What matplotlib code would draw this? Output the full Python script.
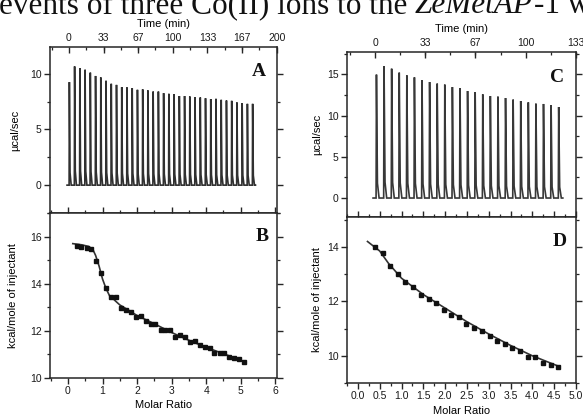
import matplotlib
matplotlib.use("Agg")
import matplotlib.pyplot as plt
from matplotlib.ticker import MultipleLocator, FixedLocator

plt.rcParams['font.family'] = ['Liberation Sans', 'DejaVu Sans']
plt.rcParams['axes.linewidth'] = 1.1

INK = '#262626'

# ---- raw ITC heat pulses (µcal/sec) ----
inj_interval = 5.04          # minutes between injections
a_first = 0.2
a_peaks = [9.25, 10.66, 10.5, 10.36, 10.1, 9.8, 9.67, 9.37, 9.1, 9.0,
           8.8, 8.77, 8.7, 8.56, 8.6, 8.5, 8.4, 8.4, 8.26, 8.2,
           8.17, 8.0, 8.0, 7.96, 7.9, 7.87, 7.8, 7.72, 7.75, 7.66,
           7.6, 7.57, 7.42, 7.36, 7.3, 7.3]
c_first = 0.7
c_peaks = [14.96, 15.96, 15.68, 15.2, 14.87, 14.63, 14.27, 14.06, 13.87, 13.75,
           13.45, 13.3, 12.97, 12.85, 12.57, 12.36, 12.29, 12.12, 11.93, 11.76,
           11.6, 11.44, 11.4, 11.24, 11.03]

time_ticks = [0, 33.33, 66.67, 100, 133.33, 166.67, 200]
time_labels = ['0', '33', '67', '100', '133', '167', '200']

# ---- integrated heats (kcal/mole of injectant) ----
b_ratio = [0.25, 0.39, 0.54, 0.68, 0.82, 0.96, 1.11, 1.25, 1.39, 1.53,
           1.68, 1.82, 1.96, 2.10, 2.25, 2.39, 2.53, 2.68, 2.82, 2.96,
           3.10, 3.25, 3.39, 3.53, 3.67, 3.82, 3.96, 4.10, 4.24, 4.39,
           4.53, 4.67, 4.81, 4.96, 5.10]
b_heat = [15.62, 15.57, 15.52, 15.48, 14.95, 14.45, 13.8, 13.45, 13.42, 12.98,
          12.88, 12.82, 12.58, 12.64, 12.43, 12.31, 12.31, 12.05, 12.03, 12.02,
          11.76, 11.83, 11.72, 11.52, 11.57, 11.4, 11.32, 11.29, 11.08, 11.08,
          11.04, 10.87, 10.84, 10.80, 10.68]
b_fit_ratio = [0.14, 0.4, 0.6, 0.72, 0.8, 0.9, 1.0, 1.1, 1.2, 1.35, 1.5,
               1.75, 2.0, 2.5, 3.0, 3.5, 4.0, 4.5, 5.1]
b_fit_heat = [15.7, 15.65, 15.58, 15.45, 15.2, 14.75, 14.2, 13.8, 13.5, 13.3, 13.1,
              12.88, 12.65, 12.3, 11.93, 11.6, 11.3, 11.03, 10.7]

d_ratio = [0.39, 0.565, 0.74, 0.915, 1.09, 1.27, 1.44, 1.62, 1.79, 1.97,
           2.14, 2.32, 2.49, 2.67, 2.84, 3.02, 3.19, 3.37, 3.54, 3.72,
           3.89, 4.07, 4.24, 4.42, 4.59]
d_heat = [14.0, 13.76, 13.3, 13.0, 12.72, 12.51, 12.23, 12.1, 11.95, 11.7,
          11.5, 11.44, 11.17, 11.01, 10.91, 10.73, 10.55, 10.43, 10.3, 10.18,
          9.95, 9.94, 9.73, 9.65, 9.57]
d_fit_ratio = [0.22, 0.5, 0.7, 1.0, 1.5, 2.0, 2.5, 3.0, 3.5, 4.0, 4.5, 4.63]
d_fit_heat = [14.2, 13.85, 13.4, 12.85, 12.25, 11.75, 11.25, 10.8, 10.38, 10.0, 9.68, 9.6]


def pulse_trace(first, heights):
    """Baseline trace with one sharp exothermic pulse per injection."""
    xs, ys = [first - 2.0], [0.0]
    t = first
    for i, h in enumerate(heights):
        t = first + i * inj_interval
        xs += [t, t + 0.25, t + 0.9, t + 2.0]
        ys += [0.0, h, 0.12 * h, 0.0]
    xs.append(t + 3.0)
    ys.append(0.0)
    return xs, ys


def style_common(ax):
    for s in ax.spines.values():
        s.set_color(INK)
    ax.tick_params(axis='both', which='both', colors=INK, labelsize=7.5,
                   labelcolor='#1a1a1a')
    ax.tick_params(axis='y', which='both', left=True, right=True,
                   direction='out')
    ax.tick_params(axis='y', which='major', length=4, width=1.0, pad=2)
    ax.tick_params(axis='y', which='minor', length=2.5, width=0.9)


def style_pulse(ax, xlim, ylim, yticks, yminor, ticks, labels):
    style_common(ax)
    ax.set_xlim(*xlim)
    ax.set_ylim(*ylim)
    ax.xaxis.set_ticks_position('top')
    ax.xaxis.set_label_position('top')
    ax.xaxis.set_major_locator(FixedLocator(ticks))
    ax.set_xticklabels(labels)
    ax.xaxis.set_minor_locator(MultipleLocator(33.333 / 2))
    ax.tick_params(axis='x', which='both', top=True, bottom=False,
                   direction='in', pad=3)
    ax.tick_params(axis='x', which='major', length=4, width=1.0)
    ax.tick_params(axis='x', which='minor', length=2.5, width=0.9)
    ax.set_yticks(yticks)
    ax.yaxis.set_minor_locator(MultipleLocator(yminor))
    ax.set_xlabel('Time (min)', fontsize=8, labelpad=4)
    ax.set_ylabel('µcal/sec', fontsize=8)


def style_heat(ax, xlim, ylim, xmajor, xminor, yticks, xfmt):
    style_common(ax)
    ax.set_xlim(*xlim)
    ax.set_ylim(*ylim)
    ax.xaxis.set_major_locator(MultipleLocator(xmajor))
    ax.xaxis.set_minor_locator(MultipleLocator(xminor))
    ax.xaxis.set_major_formatter(xfmt)
    ax.tick_params(axis='x', which='both', top=True, direction='in')
    ax.tick_params(axis='x', which='both', bottom=True, direction='out',
                   pad=2)
    ax.tick_params(axis='x', which='major', length=4, width=1.0)
    ax.tick_params(axis='x', which='minor', length=2.5, width=0.9)
    ax.set_yticks(yticks)
    ax.yaxis.set_minor_locator(MultipleLocator(1))
    ax.set_xlabel('Molar Ratio', fontsize=8, labelpad=3)
    ax.set_ylabel('kcal/mole of injectant', fontsize=8)


def panel_letter(ax, x, y, s):
    ax.text(x, y, s, transform=ax.transAxes, ha='center', va='center',
            fontsize=14, fontweight='bold', family='Liberation Serif',
            color='#111111')


fig = plt.figure(figsize=(5.83, 4.20), dpi=100)
W, H = 583.0, 420.0


def place(left, top, right, bottom):
    return fig.add_axes([left / W, 1 - bottom / H, (right - left) / W,
                         (bottom - top) / H])


axA = place(50, 47, 277, 213)
axB = place(50, 213, 277, 378)
axC = place(347, 52, 576, 217)
axD = place(347, 217, 576, 383)

# A: raw heat pulses, titration 1
xs, ys = pulse_trace(a_first, a_peaks)
axA.plot(xs, ys, color='#303030', lw=1.2, solid_joinstyle='miter')
style_pulse(axA, (-18.2, 200.3), (-2.5, 12.4), [0, 5, 10], 2.5,
            time_ticks, time_labels)
panel_letter(axA, 0.92, 0.85, 'A')

# C: raw heat pulses, titration 2
xs, ys = pulse_trace(c_first, c_peaks)
axC.plot(xs, ys, color='#383838', lw=1.2, solid_joinstyle='miter')
style_pulse(axC, (-18.6, 133.4), (-2.3, 17.7), [0, 5, 10, 15], 2.5,
            time_ticks[:5], time_labels[:5])
panel_letter(axC, 0.917, 0.848, 'C')

# B: integrated heats with fitted curve
int_fmt = matplotlib.ticker.FuncFormatter(lambda v, p: f'{v:.0f}')
axB.plot(b_fit_ratio, b_fit_heat, color='#333333', lw=1.2)
axB.plot(b_ratio, b_heat, ls='none', marker='s', ms=2.6, color='#111111')
style_heat(axB, (-0.52, 6.05), (10, 17), 1, 0.5, [10, 12, 14, 16], int_fmt)
panel_letter(axB, 0.934, 0.855, 'B')

# D: integrated heats with fitted curve
dec_fmt = matplotlib.ticker.FuncFormatter(lambda v, p: f'{v:.1f}')
axD.plot(d_fit_ratio, d_fit_heat, color='#333333', lw=1.2)
axD.plot(d_ratio, d_heat, ls='none', marker='s', ms=2.6, color='#111111')
style_heat(axD, (-0.25, 5.001), (9, 15.1), 0.5, 0.25, [10, 12, 14], dec_fmt)
panel_letter(axD, 0.93, 0.855, 'D')

# y-label centres in figure pixels
for ax, x in ((axA, 20), (axB, 18), (axC, 322), (axD, 322)):
    pos = ax.get_position()
    ax.yaxis.set_label_coords((x - pos.x0 * W) / (pos.width * W), 0.5)

# running text of the page above the figure (clipped at the top edge)
fig.canvas.draw()
renderer = fig.canvas.get_renderer()
base_y = 1 - 13.0 / H
serif = 'Liberation Serif'
fs = 22.5
t1 = fig.text(-0.002, base_y, 'events of three Co(II) ions to the', family=serif,
              fontsize=fs, va='baseline', ha='left', color='#111111')
x_next = t1.get_window_extent(renderer).x1 / fig.bbox.width + 0.013
t2 = fig.text(x_next, base_y, 'ZeMetAP', family=serif, style='italic',
              fontsize=fs, va='baseline', ha='left', color='#111111')
x_next = t2.get_window_extent(renderer).x1 / fig.bbox.width + 0.002
fig.text(x_next, base_y, '-1 w', family=serif, fontsize=fs, va='baseline',
         ha='left', color='#111111')

fig.savefig('out.png', dpi=100)
